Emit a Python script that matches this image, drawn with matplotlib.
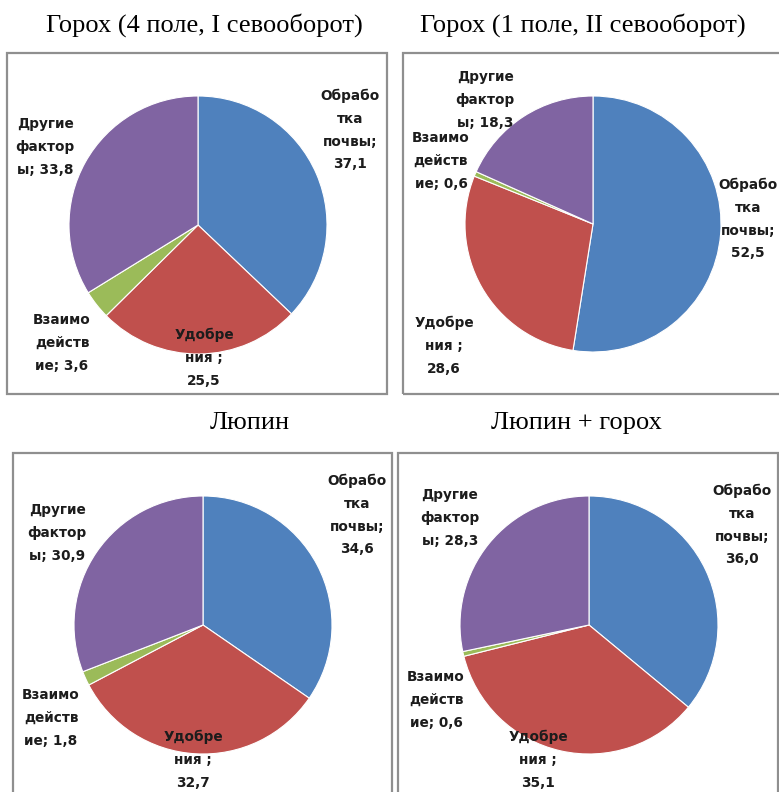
import matplotlib
matplotlib.use("Agg")
import matplotlib.pyplot as plt
from matplotlib.patches import Rectangle

# Factor shares (%) in each crop variant
factors = ["Обрабо\nтка\nпочвы;", "Удобре\nния ;", "Взаимо\nдейств\nие;", "Другие\nфактор\nы;"]
value_on_new_line = [True, True, False, False]
titles = ["Горох (4 поле, I севооборот)", "Горох (1 поле, II севооборот)",
          "Люпин", "Люпин + горох"]
gorokh_I = [37.1, 25.5, 3.6, 33.8]
gorokh_II = [52.5, 28.6, 0.6, 18.3]
lupin = [34.6, 32.7, 1.8, 30.9]
lupin_gorokh = [36.0, 35.1, 0.6, 28.3]
series = [gorokh_I, gorokh_II, lupin, lupin_gorokh]
colors = ["#4F81BD", "#C0504D", "#9BBB59", "#8064A2"]

W, H = 779, 792
fig = plt.figure(figsize=(W / 100, H / 100), dpi=100)

# layout in pixels: pie centre, radius, frame box, title centre
pies = [(198, 225, 129), (593, 224, 128), (203, 625, 129), (589, 625, 129)]
frames = [(7, 53, 387, 394), (403, 53, 782, 394), (13, 453, 392, 800), (398, 453, 778, 800)]
title_pos = [(204, 25), (583, 25), (250, 423), (576, 423)]
# label centres (pixels) for each slice, per panel
label_pos = [
    [(350, 130), (204, 358), (62, 343), (45, 147)],
    [(748, 219), (444, 346), (441, 161), (485, 100)],
    [(357, 515), (193, 760), (51, 718), (57, 533)],
    [(742, 525), (538, 760), (436, 700), (450, 518)],
]

def fx(x):
    return x / W

def fy(y):
    return 1 - y / H

for i, vals in enumerate(series):
    x0, y0, x1, y1 = frames[i]
    fig.patches.append(Rectangle((fx(x0), fy(y1)), fx(x1 - x0), (y1 - y0) / H,
                                 transform=fig.transFigure, fill=False,
                                 edgecolor="#8f8f8f", linewidth=1.6, zorder=0))
    tx, ty = title_pos[i]
    fig.text(fx(tx), fy(ty), titles[i], ha="center", va="center",
             family="Liberation Serif", fontsize=19, color="black")

    cx, cy, r = pies[i]
    ax = fig.add_axes([fx(cx - r), fy(cy + r), 2 * r / W, 2 * r / H])
    ax.pie(vals, colors=colors, startangle=90, counterclock=False, radius=1,
           wedgeprops=dict(edgecolor="white", linewidth=0.8))
    ax.set_xlim(-1, 1)
    ax.set_ylim(-1, 1)
    ax.set_aspect("auto")
    ax.axis("off")

    for j, v in enumerate(vals):
        lx, ly = label_pos[i][j]
        sep = "\n" if value_on_new_line[j] else " "
        txt = factors[j] + sep + f"{v:.1f}".replace(".", ",")
        fig.text(fx(lx), fy(ly), txt, ha="center", va="center", multialignment="center",
                 family="DejaVu Sans", fontsize=9.8, linespacing=1.8,
                 color="#1c1c1c", fontweight="bold")

fig.savefig("out.png", dpi=100)
